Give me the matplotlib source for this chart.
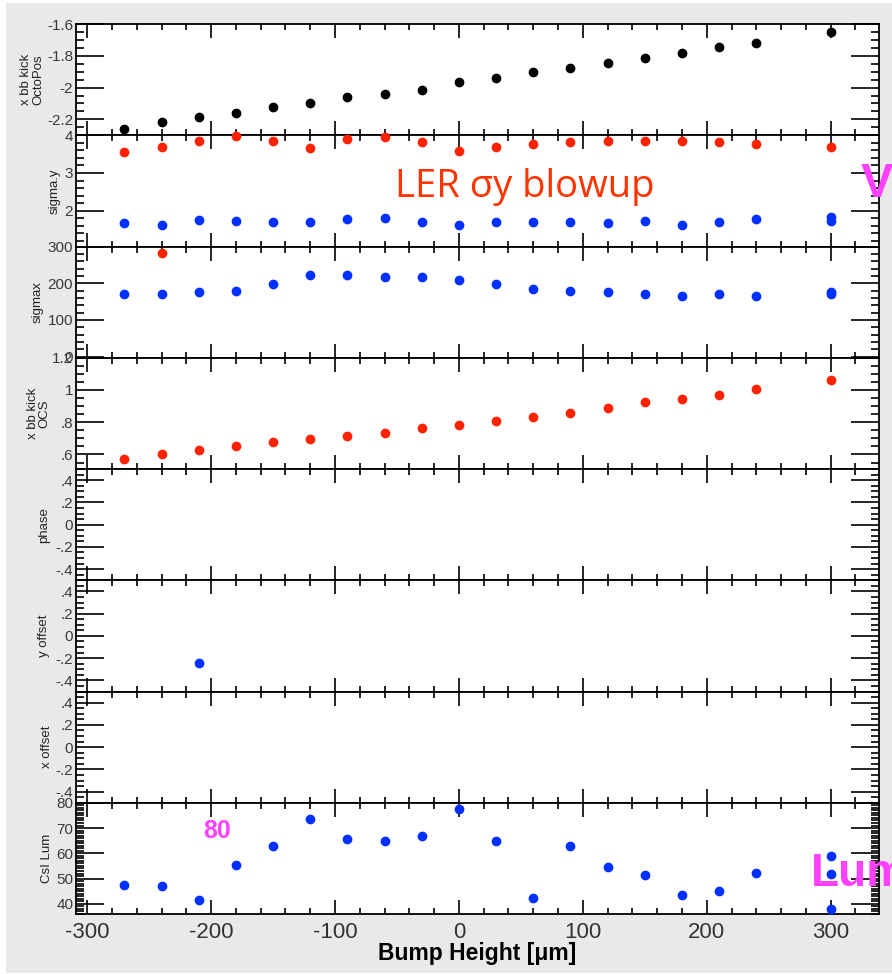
import numpy as np
import matplotlib.pyplot as plt
from matplotlib.ticker import MultipleLocator, FuncFormatter
from matplotlib.patches import Rectangle

plt.rcParams['font.family'] = ['Liberation Sans', 'DejaVu Sans']
plt.rcParams['axes.unicode_minus'] = False

# bump scan settings [um]
bump = [-270, -240, -210, -180, -150, -120, -90, -60, -30, 0,
        30, 60, 90, 120, 150, 180, 210, 240, 300]

kick_octopos = [-2.258, -2.217, -2.188, -2.160, -2.123, -2.098, -2.060, -2.043, -2.014, -1.968,
                -1.941, -1.903, -1.876, -1.847, -1.811, -1.784, -1.747, -1.719, -1.650]

sigy_ler = [3.55, 3.70, 3.86, 3.97, 3.86, 3.67, 3.89, 3.95, 3.82, 3.58,
            3.70, 3.77, 3.81, 3.85, 3.85, 3.85, 3.82, 3.77, 3.70]
sigy_her_x = bump + [300]
sigy_her = [1.66, 1.62, 1.76, 1.73, 1.69, 1.69, 1.77, 1.81, 1.69, 1.62,
            1.69, 1.69, 1.69, 1.66, 1.73, 1.62, 1.69, 1.77, 1.83, 1.72]

sigx_her_x = bump + [300]
sigx_her = [171, 171, 175, 178, 199, 223, 223, 218, 218, 210,
            199, 183, 178, 175, 170, 166, 170, 166, 175, 170]
sigx_ler_x = [-240]
sigx_ler = [283]

kick_ocs = [0.573, 0.600, 0.626, 0.653, 0.680, 0.698, 0.717, 0.735, 0.762, 0.780,
            0.807, 0.834, 0.860, 0.887, 0.924, 0.942, 0.969, 1.006, 1.059]

yoff_x = [-210]
yoff = [-0.24]

lum_x = bump + [300, 300]
lum = [47.5, 46.9, 41.6, 55.2, 63.0, 73.6, 65.8, 64.8, 67.0, 77.7,
       64.8, 42.2, 62.9, 54.7, 51.6, 43.4, 45.2, 52.3, 58.8, 51.7, 38.1]

BLACK, RED, BLUE = 'black', '#ff2200', '#0030ff'
MAGENTA = '#ff40ff'

# (ylabel, label right edge in axes coords, ylim, major, minor, series)
panels = [
    ('x bb kick\nOctoPos', -0.040, (-2.3, -1.6), 0.2, 0.05,
     [(bump, kick_octopos, BLACK)]),
    ('sigma.y', -0.019, (1.05, 4.0), 1, 0.2,
     [(bump, sigy_ler, RED), (sigy_her_x, sigy_her, BLUE)]),
    ('sigmax', -0.040, (-3, 300), 100, 20,
     [(sigx_her_x, sigx_her, BLUE), (sigx_ler_x, sigx_ler, RED)]),
    ('x bb kick\nOCS', -0.032, (0.51, 1.2), 0.2, 0.05,
     [(bump, kick_ocs, RED)]),
    ('phase', -0.032, (-0.5, 0.5), 0.2, 0.05, []),
    ('y offset', -0.032, (-0.5, 0.5), 0.2, 0.05,
     [(yoff_x, yoff, BLUE)]),
    ('x offset', -0.029, (-0.5, 0.5), 0.2, 0.05, []),
    ('CsI Lum', -0.029, (36, 80), 10, 1,
     [(lum_x, lum, BLUE)]),
]


def root_fmt(v, pos):
    v = round(v, 6)
    if v == 0:
        return '0'
    s = f'{v:g}'
    if s.startswith('0.'):
        s = s[1:]
    elif s.startswith('-0.'):
        s = '-' + s[2:]
    return s


W, H = 892, 974
fig = plt.figure(figsize=(W / 100, H / 100), dpi=100)
fig.patch.set_facecolor('white')
fig.add_artist(Rectangle((6 / W, 1 / H), 1, 970 / H, transform=fig.transFigure,
                         facecolor='#e9e9e9', edgecolor='none', zorder=-10))

left, right = 76, 879
edges = np.linspace(24, 914, len(panels) + 1)

for i, (label, lx, ylim, major, minor, series) in enumerate(panels):
    top, bot = edges[i], edges[i + 1]
    ax = fig.add_axes([left / W, 1 - bot / H, (right - left) / W, (bot - top) / H])
    ax.set_facecolor('white')
    for xs, ys, c in series:
        ax.plot(xs, ys, 'o', color=c, ms=6, mec=c, clip_on=False, zorder=3)
    ax.set_xlim(-309, 339)
    ax.set_ylim(*ylim)
    ax.xaxis.set_major_locator(MultipleLocator(100))
    ax.xaxis.set_minor_locator(MultipleLocator(20))
    ax.yaxis.set_major_locator(MultipleLocator(major))
    ax.yaxis.set_minor_locator(MultipleLocator(minor))
    ax.yaxis.set_major_formatter(FuncFormatter(root_fmt))
    for s in ax.spines.values():
        s.set_linewidth(1.3)
    ax.tick_params(which='both', direction='in', top=True, right=True, width=1.2)
    ax.tick_params(axis='x', which='major', length=10)
    ax.tick_params(axis='x', which='minor', length=4)
    ax.tick_params(axis='y', which='major', length=20)
    ax.tick_params(axis='y', which='minor', length=6)
    ax.tick_params(axis='y', labelsize=11, labelcolor='#3a3a3a', pad=2)
    ax.set_ylabel(label, fontsize=9.5, color='#222222', linespacing=0.95)
    ax.yaxis.set_label_coords(lx, 0.5)
    if i < len(panels) - 1:
        ax.tick_params(axis='x', labelbottom=False)
    else:
        ax.tick_params(axis='x', labelsize=16, labelcolor='#333333', pad=6)
        ax.set_xlabel('Bump Height [\u03bcm]', fontsize=16.5, fontweight='bold')
        ax.xaxis.set_label_coords(0.5, -0.25)

fig.text(395 / W, 1 - 197 / H, 'LER \u03c3y blowup', fontsize=27.5, color='#ff3300',
         family='Open Sans', va='baseline', ha='left')
fig.text(861 / W, 1 - 197 / H, 'V', fontsize=35, color=MAGENTA, fontweight='bold',
         va='baseline', ha='left')
fig.text(811 / W, 1 - 886 / H, 'Lum', fontsize=33, color=MAGENTA, fontweight='bold',
         va='baseline', ha='left')
fig.text(203 / W, 1 - 838 / H, '80', fontsize=18, color=MAGENTA, fontweight='bold',
         va='baseline', ha='left')

fig.savefig('out.png', dpi=100, facecolor=fig.get_facecolor())
